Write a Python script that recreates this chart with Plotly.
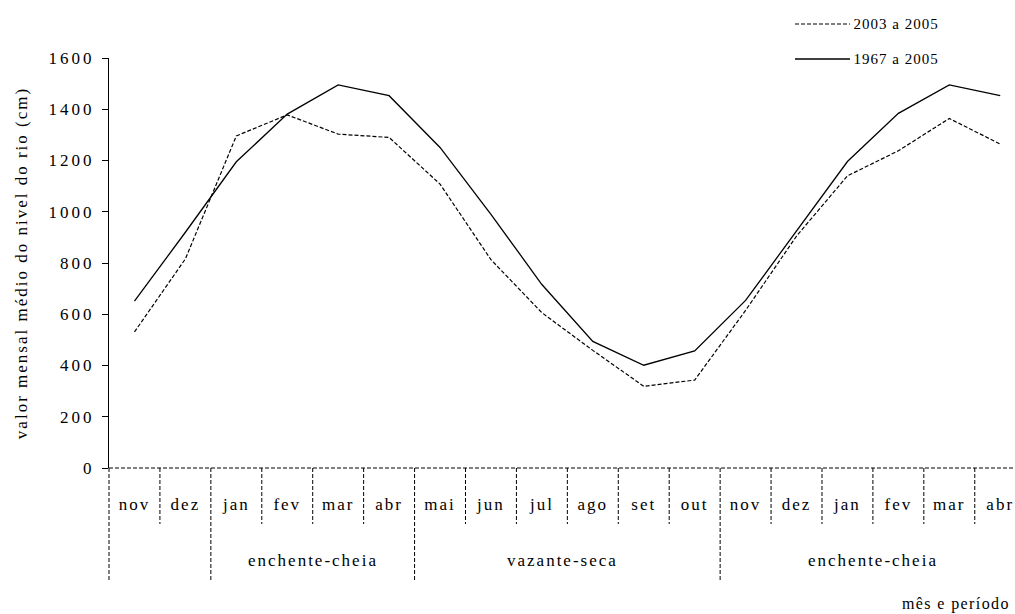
import plotly.graph_objects as go

# Monthly labels (Nov of one year through Apr two seasons later)
months = ["nov", "dez", "jan", "fev", "mar", "abr", "mai", "jun", "jul",
          "ago", "set", "out", "nov", "dez", "jan", "fev", "mar", "abr"]

# Mean monthly river level (cm)
level_1967_2005 = [651, 920, 1195, 1381, 1495, 1453, 1251, 990, 716,
                   494, 401, 457, 654, 926, 1196, 1384, 1495, 1453]
level_2003_2005 = [531, 816, 1296, 1378, 1303, 1290, 1108, 813, 606,
                   459, 319, 343, 615, 905, 1140, 1238, 1364, 1264]

# Hydrological periods: (label, centre position in month index units)
periods = [("enchente-cheia", 3.5), ("vazante-seca", 8.4), ("enchente-cheia", 14.5)]
# Month boundaries whose separator runs down through the period row
long_bounds = [0, 2, 6, 12]

y_ticks = [0, 200, 400, 600, 800, 1000, 1200, 1400, 1600]

FONT = "Liberation Serif"
X0, X1 = -0.5, 17.29
W, H = 1015, 614
ML, MR, MT, MB = 109, 0, 58, 146
PW, PH = W - ML - MR, H - MT - MB

x = list(range(len(months)))

fig = go.Figure()
fig.add_trace(go.Scatter(
    x=x, y=level_2003_2005, mode="lines", name="2003 a 2005",
    line=dict(color="black", width=1.2, dash="4px,2px"), showlegend=False,
))
fig.add_trace(go.Scatter(
    x=x, y=level_1967_2005, mode="lines", name="1967 a 2005",
    line=dict(color="black", width=1.3), showlegend=False,
))


def px_to_paper_x(px):
    return (px - ML) / PW


def px_to_paper_y(py):
    return (H - MB - py) / PH


def idx_to_paper_x(v):
    return (v - X0) / (X1 - X0)


shapes = []
# dashed baseline along y = 0
shapes.append(dict(type="line", xref="paper", yref="paper", x0=0, x1=1, y0=0, y1=0,
                   line=dict(color="black", width=1, dash="4px,2px")))
# month / period separators below the baseline
for b in range(len(months)):
    xp = idx_to_paper_x(b - 0.5)
    bottom = px_to_paper_y(582) if b in long_bounds else px_to_paper_y(524)
    shapes.append(dict(type="line", xref="paper", yref="paper", x0=xp, x1=xp,
                       y0=0, y1=bottom,
                       line=dict(color="black", width=1, dash="4px,2px")))

# legend samples
shapes.append(dict(type="line", xref="paper", yref="paper",
                   x0=px_to_paper_x(795), x1=px_to_paper_x(850),
                   y0=px_to_paper_y(24), y1=px_to_paper_y(24),
                   line=dict(color="black", width=1.2, dash="4px,2px")))
shapes.append(dict(type="line", xref="paper", yref="paper",
                   x0=px_to_paper_x(795), x1=px_to_paper_x(850),
                   y0=px_to_paper_y(59), y1=px_to_paper_y(59),
                   line=dict(color="black", width=1.3)))

annotations = []
for name, py in [("2003 a 2005", 24), ("1967 a 2005", 59)]:
    annotations.append(dict(text=name, xref="paper", yref="paper",
                            x=px_to_paper_x(857), y=px_to_paper_y(py),
                            xanchor="left", yanchor="middle", showarrow=False,
                            font=dict(family=FONT, size=15, color="black")))
for label, pos in periods:
    annotations.append(dict(text=label, xref="x", yref="paper", x=pos,
                            y=px_to_paper_y(560), xanchor="center", yanchor="middle",
                            showarrow=False,
                            font=dict(family=FONT, size=17, color="black")))
annotations.append(dict(text="mês e período", xref="paper", yref="paper",
                        x=px_to_paper_x(909), y=px_to_paper_y(604),
                        xanchor="left", yanchor="middle", showarrow=False,
                        font=dict(family=FONT, size=16, color="black")))

fig.update_layout(
    width=W, height=H,
    margin=dict(l=ML, r=MR, t=MT, b=MB, autoexpand=False),
    paper_bgcolor="white", plot_bgcolor="white",
    font=dict(family=FONT, color="black"),
    shapes=shapes, annotations=annotations,
    xaxis=dict(
        range=[X0, X1], tickmode="array", tickvals=x, ticktext=months,
        showgrid=False, zeroline=False, showline=False, ticks="",
        tickfont=dict(family=FONT, size=17, color="black"),
        ticklabelstandoff=24,
    ),
    yaxis=dict(
        range=[0, 1600], tickmode="array", tickvals=y_ticks,
        showgrid=False, zeroline=False, showline=True, linecolor="black",
        linewidth=1, ticks="outside", ticklen=6, tickcolor="black", tickwidth=1,
        tickfont=dict(family=FONT, size=17, color="black"),
        ticklabelstandoff=4,
        title=dict(text="valor mensal médio do nivel do rio (cm)",
                   font=dict(family=FONT, size=17, color="black"), standoff=28),
    ),
)

# Loosen the letter spacing of the chart text (typeset look of the original figure)
spacing_js = """
var gd = document.getElementById('{plot_id}');
gd.querySelectorAll('svg text').forEach(function (t) {
    var s = t.textContent || '';
    var ls = '2px';
    if (/a 20/.test(s)) { ls = '1px'; }
    else if (/^[0-9]+$/.test(s)) { ls = '3px'; }
    else if (/per/.test(s)) { ls = '1.4px'; }
    t.style.letterSpacing = ls;
});
"""

fig.write_html("out.html", config={"displayModeBar": False}, post_script=spacing_js)
